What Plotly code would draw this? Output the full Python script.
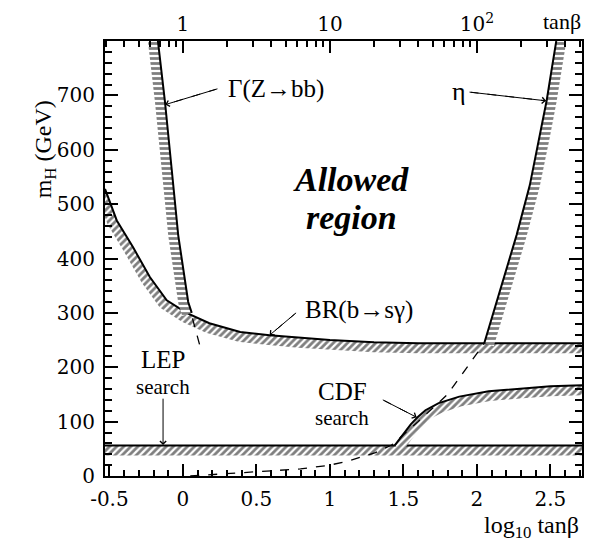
import numpy as np
import plotly.graph_objects as go

# ---------------- data ----------------
x_range = [-0.53, 2.715]         # log10 tanβ
y_range = [0, 800]               # m_H (GeV)

# Γ(Z→bb) bound (excluded to the left)
gz_x = [-0.17, -0.122, -0.077, -0.032, 0.036, 0.06]
gz_y = [800, 688, 566, 443, 320, 300]
gz_dash_x = [0.065, 0.125]
gz_dash_y = [290, 230]

# BR(b→sγ) bound (excluded below)
br_x = [-0.53, -0.45, -0.34, -0.225, -0.11, 0.025, 0.18, 0.39, 0.59, 0.79, 1.0, 1.3, 1.6, 2.0, 2.715]
br_y = [528, 470, 421, 366, 323, 300, 281, 265, 259, 254, 250, 246, 244, 244, 244]

# η (perturbativity) bound (excluded to the right), solid above BR, dashed below
eta_x = [2.05, 2.17, 2.27, 2.36, 2.43, 2.475, 2.51, 2.54]
eta_y = [244, 351, 443, 535, 627, 691, 750, 800]
eta_dash_x = [0.05, 0.3, 0.5, 0.8, 1.0, 1.13, 1.31, 1.42, 1.6, 1.8, 2.05]
eta_dash_y = [0, 4, 8, 13, 20, 28, 43, 57, 100, 150, 244]

# CDF search bound (excluded below)
cdf_x = [1.44, 1.5, 1.55, 1.6, 1.65, 1.74, 1.88, 2.08, 2.33, 2.5, 2.715]
cdf_y = [56, 78, 95, 109, 121, 134, 146, 156, 162, 165, 167]

# LEP search bound (excluded below)
lep_mass = 56

# tick labels
bottom_ticks = [-0.5, 0, 0.5, 1, 1.5, 2, 2.5]
bottom_labels = ["-0.5", "0", "0.5", "1", "1.5", "2", "2.5"]
top_tan_major = [1, 10, 100]
top_labels = ["1", "10", "10<sup>2</sup>"]
y_ticks = [0, 100, 200, 300, 400, 500, 600, 700]

# ---------------- layout geometry ----------------
# the page body has an 8px margin, so the figure is drawn 8px in from the
# top-left corner of the window; keep the page from overflowing
OFF = 8
W, H = 593 - 2 * OFF, 550 - 2 * OFF
PLOT_L, PLOT_R, PLOT_T, PLOT_B = 105, 584, 41, 476   # in window pixels
ML, MT = PLOT_L - OFF, PLOT_T - OFF
PW, PH = PLOT_R - PLOT_L, PLOT_B - PLOT_T
MR, MB = W - ML - PW, H - MT - PH
SX = PW / (x_range[1] - x_range[0])   # px per x unit
SY = PH / (y_range[1] - y_range[0])   # px per y unit


def paper_x(px):
    return (px - PLOT_L) / PW


def paper_y(py):
    return (PLOT_B - py) / PH


SERIF = "Liberation Serif, Times New Roman, Times, DejaVu Serif, serif"
TICKSERIF = "DejaVu Serif, Liberation Serif, serif"


def band(xs, ys, side, width_px=10):
    """Polygon of a hatched band lying on one side of a curve."""
    xs = np.asarray(xs, float)
    ys = np.asarray(ys, float)
    px, py = xs * SX, ys * SY
    tx, ty = np.gradient(px), np.gradient(py)
    n = np.hypot(tx, ty)
    nx, ny = -ty / n, tx / n
    if side == "below":
        s = np.where(ny > 0, -1, 1)
    elif side == "left":
        s = np.where(nx > 0, -1, 1)
    else:
        s = np.where(nx < 0, -1, 1)
    ox = (px + s * nx * width_px) / SX
    oy = (py + s * ny * width_px) / SY
    return np.concatenate([xs, ox[::-1]]), np.concatenate([ys, oy[::-1]])


fig = go.Figure()


def add_band(xs, ys, side, shape):
    bx, by = band(xs, ys, side)
    fig.add_trace(go.Scatter(
        x=bx, y=by, mode="lines", fill="toself", line=dict(width=0),
        fillcolor="rgba(0,0,0,0)",
        fillpattern=dict(shape=shape, size=5, solidity=0.55,
                         fgcolor="black", bgcolor="white"),
        hoverinfo="skip", showlegend=False))
    fig.add_trace(go.Scatter(x=xs, y=ys, mode="lines",
                             line=dict(color="black", width=2),
                             hoverinfo="skip", showlegend=False))


lep_x = x_range
lep_y = [lep_mass, lep_mass]

add_band(lep_x, lep_y, "below", "/")
add_band(br_x, br_y, "below", "/")
add_band(cdf_x, cdf_y, "below", "/")
add_band(gz_x, gz_y, "left", "-")
add_band(eta_x, eta_y, "right", "-")

fig.add_trace(go.Scatter(x=eta_dash_x, y=eta_dash_y, mode="lines",
                         line=dict(color="black", width=1.3, dash="dash"),
                         hoverinfo="skip", showlegend=False))
fig.add_trace(go.Scatter(x=gz_dash_x, y=gz_dash_y, mode="lines",
                         line=dict(color="black", width=1.3, dash="dash"),
                         hoverinfo="skip", showlegend=False))

# invisible trace for the top axis
fig.add_trace(go.Scatter(x=x_range, y=[None, None], xaxis="x2", mode="lines",
                         showlegend=False, hoverinfo="skip"))


# ---------------- labels and arrows ----------------
def text(x, y, s, size=24, **kw):
    fig.add_annotation(x=x, y=y, text=s, showarrow=False,
                       font=dict(family=SERIF, size=size, color="black"), **kw)


def arrow(x0, y0, x1, y1, dashed=True):
    if dashed:
        fig.add_trace(go.Scatter(x=[x0, x1], y=[y0, y1], mode="lines",
                                 line=dict(color="black", width=1, dash="dash"),
                                 hoverinfo="skip", showlegend=False))
    fig.add_annotation(x=x1, y=y1, ax=x0, ay=y0, axref="x", ayref="y",
                       text="", showarrow=True, arrowhead=4, arrowsize=1.2,
                       arrowwidth=1, arrowcolor="black")


text(0.63, 711, "Γ(Z→bb)", size=25)
arrow(0.235, 712, -0.12, 683)

text(1.877, 708, "η", size=26)
arrow(1.95, 706, 2.47, 690)

text(1.2, 306, "BR(b→sγ)", size=25)
arrow(0.77, 300, 0.59, 259)

text(-0.135, 214, "LEP", size=25)
text(-0.135, 164.5, "search", size=21)
arrow(-0.135, 145, -0.135, 57, dashed=False)

text(1.084, 156, "CDF", size=25)
text(1.084, 106, "search", size=21)
arrow(1.36, 140, 1.59, 108)

text(1.145, 545, "<b><i>Allowed</i></b>", size=34)
text(1.145, 475, "<b><i>region</i></b>", size=34)

# axis titles
fig.add_annotation(xref="paper", yref="paper", x=paper_x(28), y=paper_y(98),
                   text="m<sub>H</sub> (GeV)", textangle=-90, showarrow=False,
                   font=dict(family=SERIF, size=24, color="black"))
fig.add_annotation(xref="paper", yref="paper", x=paper_x(533), y=paper_y(527),
                   xanchor="center", yanchor="middle",
                   text="log<sub>10</sub> tanβ", showarrow=False,
                   font=dict(family=SERIF, size=24, color="black"))
fig.add_annotation(xref="paper", yref="paper", x=paper_x(564), y=paper_y(21),
                   xanchor="center", yanchor="middle",
                   text="tanβ", showarrow=False,
                   font=dict(family=SERIF, size=22, color="black"))

# ---------------- axes ----------------
tick_font = dict(family=TICKSERIF, size=20, color="black")
minor_top = [np.log10(m * d) for d in (0.1, 1, 10, 100) for m in range(2, 10)]
minor_top = [v for v in minor_top if x_range[0] < v < x_range[1]]

fig.update_layout(
    width=W, height=H,
    margin=dict(l=ML, r=MR, t=MT, b=MB, pad=0),
    paper_bgcolor="white", plot_bgcolor="white",
    showlegend=False,
    font=dict(family=SERIF, color="black"),
    xaxis=dict(range=x_range, tickmode="array", tickvals=bottom_ticks,
               ticktext=bottom_labels, ticks="inside", ticklen=12,
               tickwidth=1.5, tickcolor="black", showline=True,
               linecolor="black", linewidth=2, mirror=False,
               showgrid=False, zeroline=False, tickfont=tick_font,
               ticklabelstandoff=4,
               minor=dict(dtick=0.1, tick0=0, ticks="inside", ticklen=6,
                          tickwidth=1.5, tickcolor="black", showgrid=False)),
    xaxis2=dict(range=x_range, overlaying="x", side="top", anchor="y",
                tickmode="array", tickvals=[np.log10(v) for v in top_tan_major],
                ticktext=top_labels, ticks="inside", ticklen=12, tickwidth=1.5,
                tickcolor="black", showline=True, linecolor="black",
                linewidth=2, showgrid=False, zeroline=False,
                tickfont=tick_font,
                minor=dict(tickmode="array", tickvals=minor_top,
                           ticks="inside", ticklen=6, tickwidth=1.5,
                           tickcolor="black", showgrid=False)),
    yaxis=dict(range=y_range, tickmode="array", tickvals=y_ticks,
               ticks="inside", ticklen=13, tickwidth=1.5, tickcolor="black",
               showline=True, linecolor="black", linewidth=2, mirror="ticks",
               showgrid=False, zeroline=False, tickfont=tick_font,
               ticklabelstandoff=4,
               minor=dict(dtick=20, tick0=0, ticks="inside", ticklen=7,
                          tickwidth=1.5, tickcolor="black", showgrid=False)),
)

fig.write_html("out.html")
